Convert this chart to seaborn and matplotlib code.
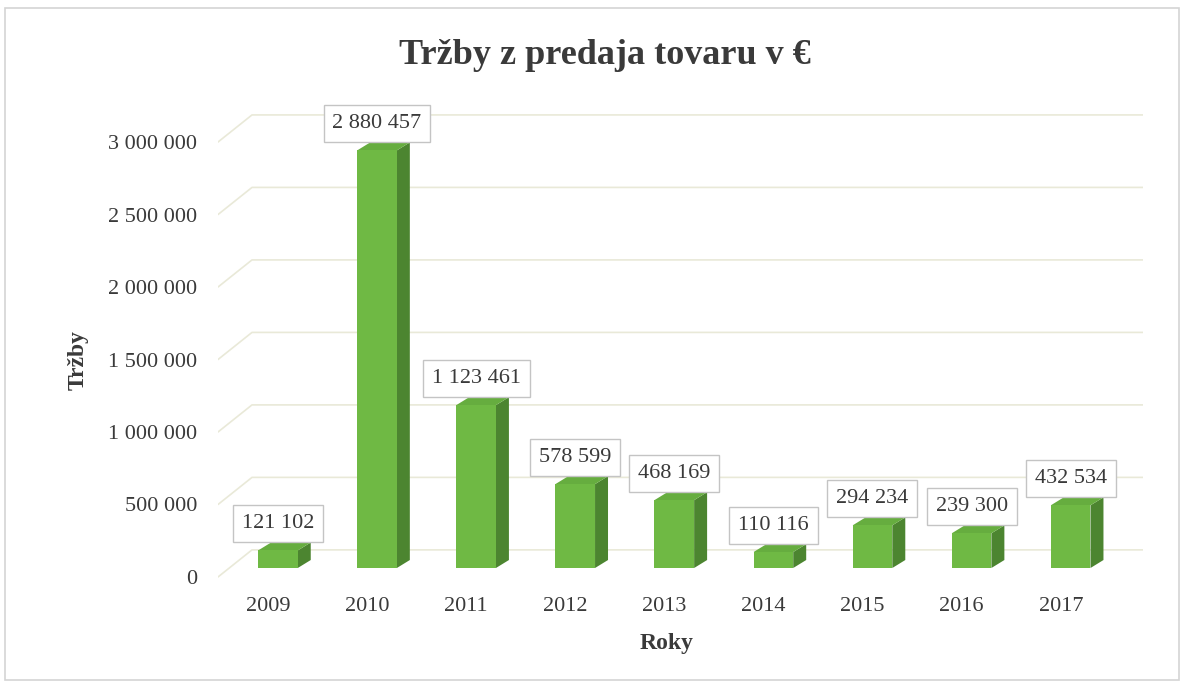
import numpy as np
import pandas as pd
import seaborn as sns
import matplotlib.pyplot as plt
from matplotlib.patches import Polygon, Rectangle

years = ["2009", "2010", "2011", "2012", "2013", "2014", "2015", "2016", "2017"]
sales = [121102, 2880457, 1123461, 578599, 468169, 110116, 294234, 239300, 432534]
yTicks = [0, 500000, 1000000, 1500000, 2000000, 2500000, 3000000]

front = "#6fb944"
side = "#4c8530"
top = "#66ad3f"
grid = "#e9e9d8"
txt = "#3a3a3a"

def fmt(v):
    return f"{v:,}".replace(",", " ")

sns.set_theme(style="white")
plt.rcParams["font.family"] = ["Liberation Serif", "DejaVu Serif"]

df = pd.DataFrame({"Roky": years, "Tržby": sales})

fig = plt.figure(figsize=(11.85, 6.88), dpi=100)
ax = fig.add_axes([218 / 1185, 108 / 688, 925 / 1185, 480 / 688])

# 3D-ish offsets (data units)
dx, dy = 0.131, 55000       # bar depth
wallX, wallY = 0.343, 125000  # back wall vs bar plane
lblY = -62000               # front axis vs bar plane

# gridlines on the back wall with perspective stubs
for v in yTicks:
    x0 = -0.605
    ax.plot([x0, x0 + wallX, 8.73], [v + lblY, v + wallY, v + wallY],
            color=grid, lw=1.2, zorder=0)

sns.barplot(data=df, x="Roky", y="Tržby", color=front, width=0.4,
            saturation=1, linewidth=0, ax=ax, zorder=3)

for p, v in zip(ax.patches, sales):
    x, w, h = p.get_x(), p.get_width(), p.get_height()
    ax.add_patch(Polygon([(x + w, 0), (x + w + dx, dy), (x + w + dx, h + dy), (x + w, h)],
                         closed=True, fc=side, ec="none", zorder=2))
    ax.add_patch(Polygon([(x, h), (x + dx, h + dy), (x + w + dx, h + dy), (x + w, h)],
                         closed=True, fc=top, ec="none", zorder=2))
    ax.annotate(fmt(v), (x + w / 2, h), xytext=(0, 12.5), textcoords="offset points",
                ha="center", va="bottom", fontsize=16, color=txt, zorder=5,
                bbox=dict(boxstyle="square,pad=0.4", fc="white", ec="#c4c4c4", lw=1))

ax.set_xlim(-0.605, 8.73)
ax.set_ylim(-82760, 3228000)
ax.set_yticks([v + lblY for v in yTicks], [fmt(v) for v in yTicks])
ax.set_xticks(np.arange(len(years)) - 0.1, years)
ax.tick_params(axis="y", length=0, pad=15, labelsize=16, labelcolor=txt)
ax.tick_params(axis="x", length=0, pad=12, labelsize=16, labelcolor=txt)
ax.set_xlabel("")
ax.set_ylabel("")
for s in ax.spines.values():
    s.set_visible(False)
ax.patch.set_alpha(0)

fig.text(605 / 1185, 1 - 56 / 688, "Tržby z predaja tovaru v €", ha="center", va="center",
         fontsize=26, fontweight="bold", color=txt)
fig.text(78 / 1185, 1 - 360 / 688, "Tržby", rotation=90, ha="center", va="center",
         fontsize=17, fontweight="bold", color=txt)
fig.text(667 / 1185, 1 - 643 / 688, "Roky", ha="center", va="center",
         fontsize=17, fontweight="bold", color=txt)

fig.patches.append(Rectangle((5 / 1185, 8 / 688), 1174 / 1185, 672 / 688,
                             transform=fig.transFigure, fill=False, ec="#d4d4d4", lw=1.2))

fig.savefig("out.png", dpi=100)
